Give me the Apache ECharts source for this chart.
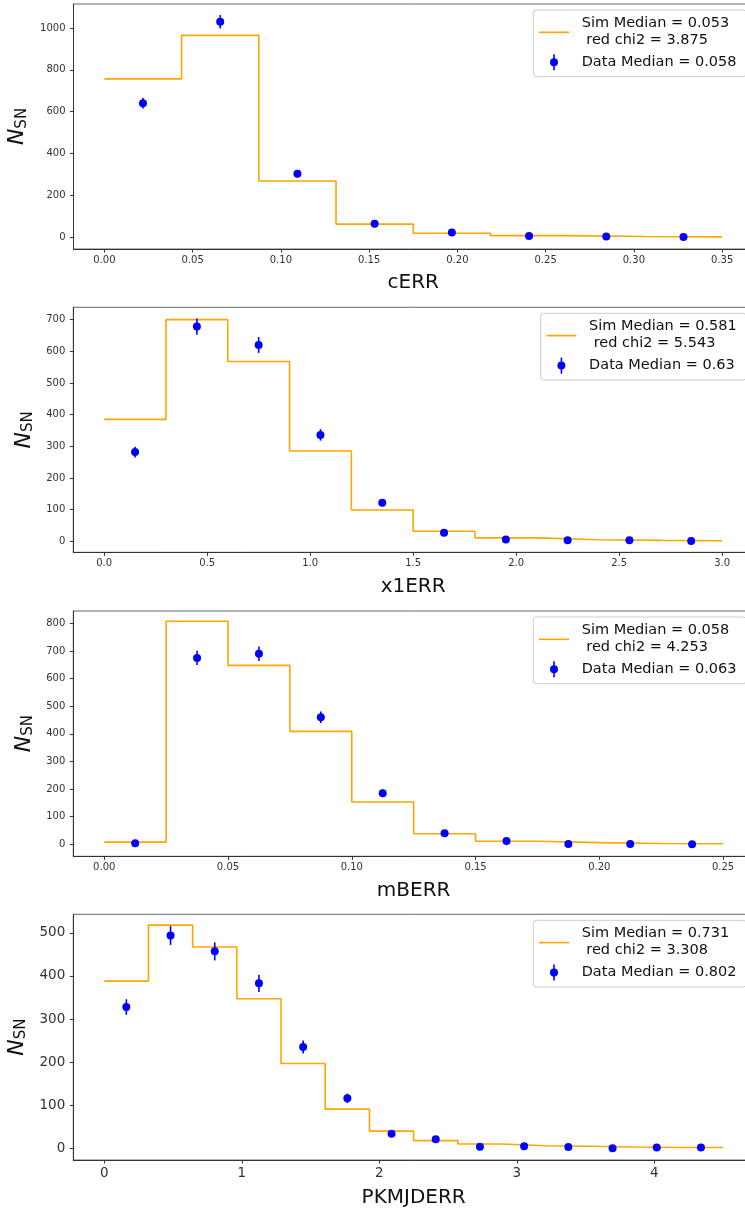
<!DOCTYPE html>
<html>
<head>
<meta charset="utf-8">
<script src="https://cdn.jsdelivr.net/npm/echarts@6/dist/echarts.min.js"></script>
<style>
html,body{margin:0;padding:0;background:#fff;}
#chart{width:745px;height:1212px;}
</style>
</head>
<body>
<div id="chart"></div>
<script>
// ---------- DATA ----------
// Panel 1: cERR
const cerrEdges = [0, 0.04375, 0.0875, 0.13125, 0.175, 0.21875, 0.2625, 0.30625, 0.35];
const cerrSim   = [757, 965, 268, 62, 18, 7, 3, 1];
const cerrData  = [640, 1030, 303, 64, 22, 5, 3, 1];
const cerrErr   = [25, 32, 17, 8, 5, 2, 2, 1];
const cerrXTicks = [0, 0.05, 0.10, 0.15, 0.20, 0.25, 0.30, 0.35];
const cerrYTicks = [0, 200, 400, 600, 800, 1000];

// Panel 2: x1ERR
const x1errEdges = [0, 0.3, 0.6, 0.9, 1.2, 1.5, 1.8, 2.1, 2.4, 2.7, 3.0];
const x1errSim   = [385, 700, 568, 285, 99, 32, 11, 5, 3, 2];
const x1errData  = [282, 678, 620, 336, 122, 27, 6, 3, 3, 1];
const x1errErr   = [17, 26, 25, 18, 11, 5, 2, 2, 2, 1];
const x1errXTicks = [0, 0.5, 1.0, 1.5, 2.0, 2.5, 3.0];
const x1errYTicks = [0, 100, 200, 300, 400, 500, 600, 700];

// Panel 3: mBERR
const mberrEdges = [0, 0.025, 0.05, 0.075, 0.1, 0.125, 0.15, 0.175, 0.2, 0.225, 0.25];
const mberrSim   = [8, 808, 648, 409, 153, 38, 11, 6, 3, 2];
const mberrData  = [4, 675, 690, 460, 185, 40, 12, 1, 1, 0];
const mberrErr   = [2, 26, 26, 21, 14, 6, 3, 1, 1, 0];
const mberrXTicks = [0, 0.05, 0.10, 0.15, 0.20, 0.25];
const mberrYTicks = [0, 100, 200, 300, 400, 500, 600, 700, 800];

// Panel 4: PKMJDERR
const pkEdges = [0, 0.3214, 0.6429, 0.9643, 1.2857, 1.6071, 1.9286, 2.25, 2.5714, 2.8929, 3.2143, 3.5357, 3.8571, 4.1786, 4.5];
const pkSim   = [388, 518, 467, 347, 197, 91, 40, 18, 10, 6, 5, 3, 2, 2];
const pkData  = [328, 494, 457, 383, 235, 116, 34, 21, 4, 5, 3, 0, 2, 2];
const pkErr   = [18, 22, 21, 20, 15, 11, 6, 5, 2, 2, 2, 0, 1, 1];
const pkXTicks = [0, 1, 2, 3, 4];
const pkYTicks = [0, 100, 200, 300, 400, 500];

const xNames = ['cERR', 'x1ERR', 'mBERR', 'PKMJDERR'];
const simLabels = ['Sim Median = 0.053', 'Sim Median = 0.581', 'Sim Median = 0.058', 'Sim Median = 0.731'];
const chiLabels = [' red chi2 = 3.875', ' red chi2 = 5.543', ' red chi2 = 4.253', ' red chi2 = 3.308'];
const dataLabels = ['Data Median = 0.058', 'Data Median = 0.63', 'Data Median = 0.063', 'Data Median = 0.802'];

// ---------- LAYOUT ----------
const FONT = 'DejaVu Sans';
const panels = [
  {edges: cerrEdges, sim: cerrSim, data: cerrData, err: cerrErr, xt: cerrXTicks, yt: cerrYTicks,
   xmin: -0.0175, xmax: 0.3675, ymin: -57, ymax: 1115, top: 4, left: 73.5, right: -8, height: 245,
   xdec: 2, tickFont: 10, xNameGap: 24, legLeft: 533.3},
  {edges: x1errEdges, sim: x1errSim, data: x1errData, err: x1errErr, xt: x1errXTicks, yt: x1errYTicks,
   xmin: -0.15, xmax: 3.15, ymin: -34.7, ymax: 739, top: 307.3, left: 73.3, right: -8, height: 245,
   xdec: 1, tickFont: 10, xNameGap: 24, legLeft: 540.7},
  {edges: mberrEdges, sim: mberrSim, data: mberrData, err: mberrErr, xt: mberrXTicks, yt: mberrYTicks,
   xmin: -0.0125, xmax: 0.2625, ymin: -43.5, ymax: 845, top: 611, left: 73.3, right: -9, height: 245.3,
   xdec: 2, tickFont: 10, xNameGap: 24, legLeft: 533.3},
  {edges: pkEdges, sim: pkSim, data: pkData, err: pkErr, xt: pkXTicks, yt: pkYTicks,
   xmin: -0.225, xmax: 4.725, ymin: -27, ymax: 543, top: 914.3, left: 73.3, right: -9, height: 245.7,
   xdec: 0, tickFont: 13.5, xNameGap: 28, legLeft: 533.3}
];

const grid = [], xAxis = [], yAxis = [], series = [], graphic = [];

panels.forEach((p, i) => {
  grid.push({left: p.left, right: p.right, top: p.top, height: p.height,
    outerBoundsMode: 'none', containLabel: false,
    show: true, borderColor: '#666', borderWidth: 1, backgroundColor: 'transparent'});
  xAxis.push({
    type: 'value', gridIndex: i, min: p.xmin, max: p.xmax,
    name: xNames[i], nameLocation: 'middle', nameGap: p.xNameGap,
    nameTextStyle: {fontFamily: FONT, fontSize: 20, color: '#111'},
    axisLine: {show: true, onZero: false, lineStyle: {color: '#333', width: 1}},
    axisTick: {show: true, length: 3.5, customValues: p.xt, lineStyle: {color: '#333'}},
    axisLabel: {customValues: p.xt, fontFamily: FONT, fontSize: p.tickFont, color: '#333', margin: 6,
      formatter: v => v.toFixed(p.xdec)},
    splitLine: {show: false}
  });
  yAxis.push({
    type: 'value', gridIndex: i, min: p.ymin, max: p.ymax,
    name: '{n|N}{s|SN}', nameLocation: 'middle', nameGap: 36, nameRotate: 90,
    nameTextStyle: {fontFamily: FONT, color: '#111',
      rich: {n: {fontFamily: FONT, fontSize: 22, fontStyle: 'italic', color: '#111'},
             s: {fontFamily: FONT, fontSize: 15, color: '#111', padding: [8, 0, 0, 0]}}},
    axisLine: {show: true, onZero: false, lineStyle: {color: '#333', width: 1}},
    axisTick: {show: true, length: 3.5, customValues: p.yt, lineStyle: {color: '#333'}},
    axisLabel: {customValues: p.yt, fontFamily: FONT, fontSize: p.tickFont, color: '#333', margin: 8,
      formatter: v => String(Math.round(v))},
    splitLine: {show: false}
  });
  // step histogram (sim)
  const stepPts = p.sim.map((v, k) => [p.edges[k], v]);
  stepPts.push([p.edges[p.edges.length - 1], p.sim[p.sim.length - 1]]);
  series.push({type: 'line', xAxisIndex: i, yAxisIndex: i, step: 'end', data: stepPts,
    showSymbol: false, symbol: 'none', lineStyle: {color: '#FFA500', width: 1.6}, z: 2, animation: false});
  // data points with error bars
  const centers = p.data.map((v, k) => (p.edges[k] + p.edges[k + 1]) / 2);
  series.push({type: 'custom', xAxisIndex: i, yAxisIndex: i, z: 3, animation: false,
    data: p.data.map((v, k) => [centers[k], v, p.err[k]]),
    renderItem: (params, api) => {
      const x = api.value(0), y = api.value(1), e = api.value(2);
      const a = api.coord([x, y - e]), b = api.coord([x, y + e]);
      return {type: 'line', shape: {x1: a[0], y1: a[1], x2: b[0], y2: b[1]},
        style: {stroke: '#0000FF', lineWidth: 1.6}};
    }});
  series.push({type: 'scatter', xAxisIndex: i, yAxisIndex: i, z: 4, animation: false,
    data: p.data.map((v, k) => [centers[k], v]),
    symbol: 'circle', symbolSize: 8, itemStyle: {color: '#0000FF', opacity: 1}});

  // legend
  const t = p.top, L = p.legLeft;
  graphic.push({type: 'rect', z: 100, shape: {x: L, y: t + 6, width: 746 - L, height: 66.7, r: 3},
    style: {fill: 'rgba(255,255,255,0.85)', stroke: '#cccccc', lineWidth: 1}});
  graphic.push({type: 'line', z: 101, shape: {x1: L + 5.7, y1: t + 28.3, x2: L + 35.7, y2: t + 28.3},
    style: {stroke: '#FFA500', lineWidth: 1.6}});
  graphic.push({type: 'line', z: 101, shape: {x1: L + 20.7, y1: t + 58.3 - 8, x2: L + 20.7, y2: t + 58.3 + 8},
    style: {stroke: '#0000FF', lineWidth: 1.6}});
  graphic.push({type: 'circle', z: 102, shape: {cx: L + 20.7, cy: t + 58.3, r: 4}, style: {fill: '#0000FF'}});
  [[simLabels[i], 19.3], [chiLabels[i], 36], [dataLabels[i], 58.3]].forEach(([txt, dy]) => {
    graphic.push({type: 'text', z: 102, style: {text: txt, x: L + 48.4, y: t + dy,
      font: '14.5px "' + FONT + '"', fill: '#111', verticalAlign: 'middle', textAlign: 'left'}});
  });
});

const chart = echarts.init(document.getElementById('chart'), null, {renderer: 'canvas'});
chart.setOption({animation: false, grid, xAxis, yAxis, series, graphic});
</script>
</body>
</html>
